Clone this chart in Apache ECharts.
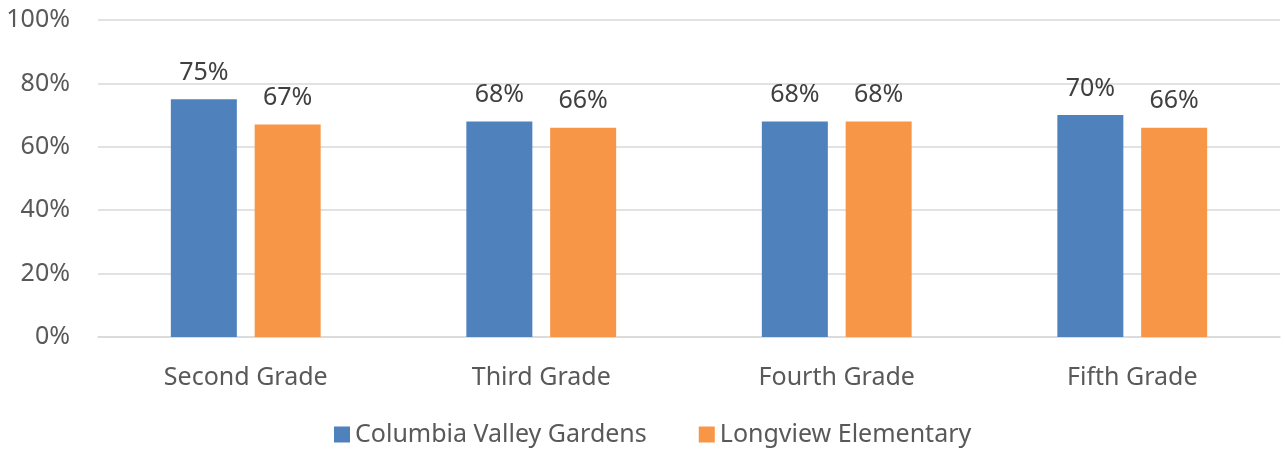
<!DOCTYPE html>
<html>
<head>
<meta charset="utf-8">
<script src="https://cdn.jsdelivr.net/npm/echarts@6/dist/echarts.min.js"></script>
<style>
  html, body { margin: 0; padding: 0; background: #fff; }
  #chart { width: 1285px; height: 452px; }
</style>
</head>
<body>
<div id="chart"></div>
<script>
// 数据
var grades = ["Second Grade", "Third Grade", "Fourth Grade", "Fifth Grade"];
var columbiaValley = [75, 68, 68, 70];
var longview = [67, 66, 68, 66];
var yTicks = [0, 20, 40, 60, 80, 100];

var font = "Noto Sans";
var chart = echarts.init(document.getElementById("chart"));

var option = {
  animation: false,
  textStyle: { fontFamily: font },
  grid: { left: 98, right: 5, top: 20, bottom: 115 },
  legend: {
    bottom: 0,
    left: 329,
    itemWidth: 16,
    itemHeight: 16,
    itemGap: 52,
    icon: "rect",
    textStyle: { color: "#595959", fontSize: 25, fontFamily: font }
  },
  xAxis: {
    type: "category",
    data: grades,
    axisTick: { show: false },
    axisLine: { lineStyle: { color: "#d9d9d9", width: 1.5 } },
    axisLabel: { color: "#595959", fontSize: 25, margin: 28 }
  },
  yAxis: {
    type: "value",
    min: 0,
    max: 100,
    interval: 20,
    axisLine: { show: false },
    axisTick: { show: false },
    axisLabel: {
      color: "#595959",
      fontSize: 25,
      margin: 28,
      formatter: function (v) { return yTicks.indexOf(v) >= 0 ? v + "%" : ""; }
    },
    splitLine: { lineStyle: { color: "#d9d9d9", width: 1.5 } }
  },
  series: [
    {
      name: "Columbia Valley Gardens",
      type: "bar",
      data: columbiaValley,
      barWidth: 66,
      barGap: "27%",
      itemStyle: { color: "#4F81BD" },
      label: {
        show: true, position: "top", distance: 14,
        color: "#404040", fontSize: 25, formatter: "{c}%"
      }
    },
    {
      name: "Longview Elementary",
      type: "bar",
      data: longview,
      barWidth: 66,
      itemStyle: { color: "#F79646" },
      label: {
        show: true, position: "top", distance: 14,
        color: "#404040", fontSize: 25, formatter: "{c}%"
      }
    }
  ]
};
chart.setOption(option);
window.addEventListener("resize", function () {
  chart.resize();
});
</script>
</body>
</html>
